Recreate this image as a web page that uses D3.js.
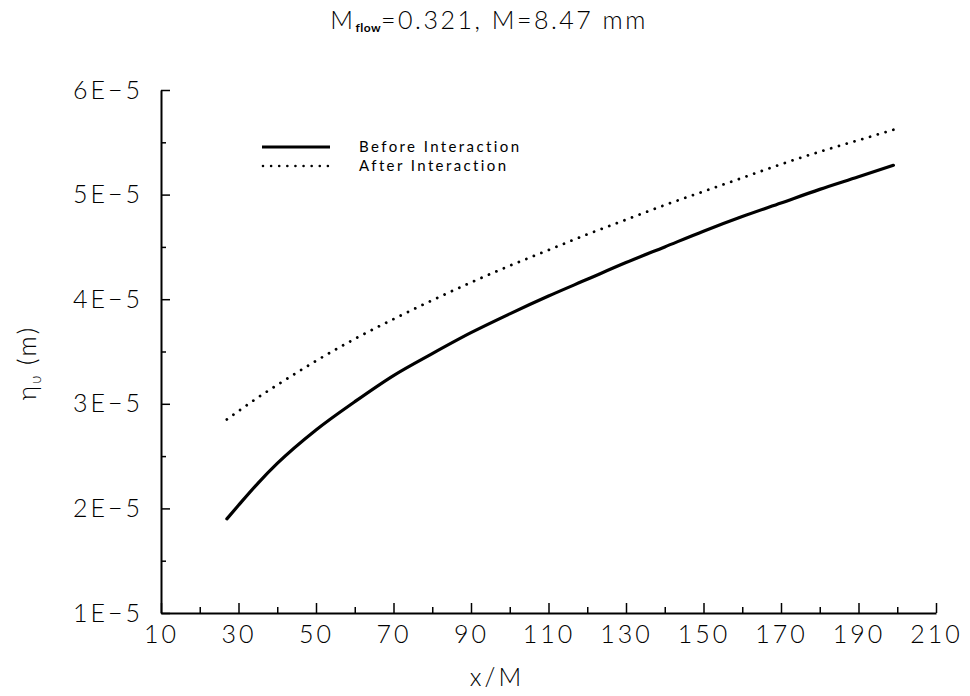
<!DOCTYPE html>
<html>
<head>
<meta charset="utf-8">
<script src="https://cdn.jsdelivr.net/npm/d3@7"></script>
<style>
  html, body { margin: 0; padding: 0; background: #fff; }
  svg { display: block; }
  text { font-family: "Lato", "Liberation Sans", sans-serif; fill: #000; }
</style>
</head>
<body>
<svg id="chart" width="970" height="696"></svg>
<script>
// ---- data ----
const xValues = [27, 30, 35, 40, 50, 60, 70, 80, 90, 100, 110, 120, 130, 140, 150, 160, 170, 180, 190, 199];
const beforeInteraction = [1.90e-5, 2.03e-5, 2.24e-5, 2.43e-5, 2.75e-5, 3.02e-5, 3.27e-5, 3.48e-5, 3.68e-5, 3.86e-5,
                           4.03e-5, 4.19e-5, 4.35e-5, 4.50e-5, 4.65e-5, 4.79e-5, 4.92e-5, 5.05e-5, 5.17e-5, 5.28e-5];
const afterInteraction  = [2.85e-5, 2.93e-5, 3.06e-5, 3.18e-5, 3.41e-5, 3.62e-5, 3.81e-5, 3.99e-5, 4.16e-5, 4.32e-5,
                           4.47e-5, 4.62e-5, 4.76e-5, 4.90e-5, 5.03e-5, 5.16e-5, 5.29e-5, 5.41e-5, 5.52e-5, 5.62e-5];
const seriesNames = ["Before Interaction", "After Interaction"];
const xMajorTicks = [10, 30, 50, 70, 90, 110, 130, 150, 170, 190, 210];
const xMinorTicks = [20, 40, 60, 80, 100, 120, 140, 160, 180, 200];
const yMajorTicks = [1e-5, 2e-5, 3e-5, 4e-5, 5e-5, 6e-5];
const yTickLabels = ["1E\u22125", "2E\u22125", "3E\u22125", "4E\u22125", "5E\u22125", "6E\u22125"];
const yMinorTicks = [1.5e-5, 2.5e-5, 3.5e-5, 4.5e-5, 5.5e-5];

const svg = d3.select("#chart");
const x = d3.scaleLinear().domain([10, 210]).range([161, 936]);
const y = d3.scaleLinear().domain([1e-5, 6e-5]).range([613, 90]);

const tickFont = 25;

// x axis
const gx = svg.append("g").attr("transform", `translate(0,${y(1e-5)})`);
gx.call(d3.axisBottom(x).tickValues(xMajorTicks).tickSizeInner(-10).tickSizeOuter(0).tickPadding(12).tickFormat(d3.format("d")));
gx.append("g").call(d3.axisBottom(x).tickValues(xMinorTicks).tickSizeInner(-6).tickSizeOuter(0).tickFormat(""))
  .select(".domain").remove();

// y axis
const gy = svg.append("g").attr("transform", `translate(${x(10)},0)`);
gy.call(d3.axisLeft(y).tickValues(yMajorTicks).tickSizeInner(-9).tickSizeOuter(0).tickPadding(18)
  .tickFormat((d, i) => yTickLabels[i]));
gy.append("g").call(d3.axisLeft(y).tickValues(yMinorTicks).tickSizeInner(-5).tickSizeOuter(0).tickFormat(""))
  .select(".domain").remove();

svg.selectAll(".domain").attr("stroke", "#000").attr("stroke-width", 2);
svg.selectAll(".tick line").attr("stroke", "#000").attr("stroke-width", 1.5);
svg.selectAll(".tick text").attr("font-size", tickFont).attr("font-family", "Lato, Liberation Sans, sans-serif")
  .style("font-weight", 300).attr("letter-spacing", 3).attr("fill", "#000");

// lines
const line = d3.line().x(d => x(d[0])).y(d => y(d[1])).curve(d3.curveMonotoneX);
const beforeData = xValues.map((v, i) => [v, beforeInteraction[i]]);
const afterData = xValues.map((v, i) => [v, afterInteraction[i]]);

svg.append("path").datum(beforeData).attr("d", line)
  .attr("fill", "none").attr("stroke", "#000").attr("stroke-width", 3.2).attr("stroke-linecap", "round");
svg.append("path").datum(afterData).attr("d", line)
  .attr("fill", "none").attr("stroke", "#000").attr("stroke-width", 2.8)
  .attr("stroke-linecap", "round").attr("stroke-dasharray", "0.01 8.1");

// legend
const legend = svg.append("g");
legend.append("line").attr("x1", 262).attr("x2", 330).attr("y1", 147).attr("y2", 147)
  .attr("stroke", "#000").attr("stroke-width", 3.2);
legend.append("line").attr("x1", 263).attr("x2", 330).attr("y1", 166).attr("y2", 166)
  .attr("stroke", "#000").attr("stroke-width", 2.6).attr("stroke-linecap", "round").attr("stroke-dasharray", "0.01 8.1");
legend.append("text").attr("x", 359).attr("y", 152).attr("font-size", 15).style("font-weight", 400)
  .attr("letter-spacing", 2.4).text(seriesNames[0]);
legend.append("text").attr("x", 359).attr("y", 171).attr("font-size", 15).style("font-weight", 400)
  .attr("letter-spacing", 2.4).text(seriesNames[1]);

// title
const title = svg.append("text").attr("x", 489).attr("y", 29).attr("text-anchor", "middle")
  .attr("font-size", 25).style("font-weight", 300).attr("letter-spacing", 2.5);
title.append("tspan").text("M");
title.append("tspan").attr("font-size", 12).style("font-weight", 700).attr("dy", 3).attr("letter-spacing", 0.5).text("flow");
title.append("tspan").attr("dy", -3).text("=0.321, M=8.47 mm");

// axis labels
svg.append("text").attr("x", 497).attr("y", 686).attr("text-anchor", "middle")
  .attr("font-size", 25).style("font-weight", 300).attr("letter-spacing", 3).text("x/M");

const yl = svg.append("text").attr("transform", "translate(36,363) rotate(-90)").attr("text-anchor", "middle")
  .attr("font-size", 25).style("font-weight", 300).attr("letter-spacing", 2);
yl.append("tspan").text("η");
yl.append("tspan").attr("font-size", 15).attr("dy", 5).text("υ");
yl.append("tspan").attr("dy", -5).text(" (m)");
</script>
</body>
</html>
